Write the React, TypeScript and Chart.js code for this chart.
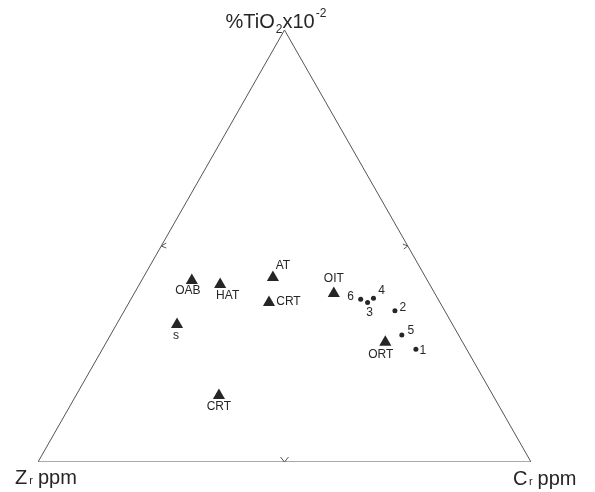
import { useEffect, useRef } from "react";
import { Chart, registerables } from "chart.js";

Chart.register(...registerables);

// Ternary compositions (% of each apex): TiO2 (top), Zr (left), Cr (right)
const fieldNames = ["OAB", "HAT", "AT", "CRT", "s", "OIT", "ORT", "CRT"];
const fieldTiO2 = [42.0, 41.1, 42.7, 36.9, 31.8, 39.0, 27.7, 15.4];
const fieldZr = [47.8, 42.5, 31.0, 34.7, 55.9, 20.5, 15.7, 55.6];
const fieldCr = [10.2, 16.4, 26.3, 28.4, 12.3, 40.5, 56.6, 29.0];

const sampleNames = ["1", "2", "3", "4", "5", "6"];
const sampleTiO2 = [26.1, 35.0, 36.9, 37.9, 29.4, 37.7];
const sampleZr = [10.3, 10.1, 14.7, 13.0, 11.5, 15.7];
const sampleCr = [63.6, 54.9, 48.4, 49.1, 59.1, 46.6];

// label placement (pixel offsets from marker centre) — styling only
const fieldLabelOffsets: [number, number][] = [
  [-4, 12], [7.5, 13], [10, -10], [19.5, 1], [-1, 12.4], [0, -13], [-4.5, 14], [0, 13],
];
const sampleLabelOffsets: [number, number][] = [
  [7, 1.5], [8, -3], [2, 10], [8, -8], [9, -4], [-10, -2],
];

const INK = "#262626";
const FONT = '"Liberation Sans", Arial, sans-serif';

function toXY(t: number, z: number, c: number) {
  const s = t + z + c;
  const tf = t / s;
  const cf = c / s;
  return { x: cf + 0.5 * tf, y: tf };
}

const TRI_R = 7;

export default function App() {
  const ref = useRef<HTMLCanvasElement | null>(null);
  useEffect(() => {
    if (!ref.current) return;
    const fieldPts = fieldTiO2.map((t, i) => toXY(t, fieldZr[i], fieldCr[i]));
    const samplePts = sampleTiO2.map((t, i) => toXY(t, sampleZr[i], sampleCr[i]));

    const annotate = {
      id: "annotate",
      afterDatasetsDraw(chart: any) {
        const ctx: CanvasRenderingContext2D = chart.ctx;
        const xs = chart.scales.x;
        const ys = chart.scales.y;
        const P = (x: number, y: number) => [xs.getPixelForValue(x), ys.getPixelForValue(y)];
        ctx.save();
        ctx.fillStyle = INK;
        ctx.strokeStyle = "#555";
        ctx.lineWidth = 1;
        // chevrons at side midpoints
        const [lx, ly] = P(0.25, 0.5);
        const [rx, ry] = P(0.75, 0.5);
        const [bx, by] = P(0.5, 0);
        ctx.beginPath();
        ctx.moveTo(lx + 5, ly - 3); ctx.lineTo(lx, ly); ctx.lineTo(lx + 5, ly + 2);
        ctx.moveTo(rx - 5, ry - 2); ctx.lineTo(rx, ry); ctx.lineTo(rx - 4, ry + 3);
        ctx.moveTo(bx - 4, by - 5); ctx.lineTo(bx, by); ctx.lineTo(bx + 4, by - 5);
        ctx.stroke();

        // point labels
        ctx.textAlign = "center";
        ctx.textBaseline = "middle";
        ctx.font = `12px ${FONT}`;
        const fmeta = chart.getDatasetMeta(1);
        fmeta.data.forEach((el: any, i: number) => {
          const [dx, dy] = fieldLabelOffsets[i];
          ctx.fillText(fieldNames[i], el.x + dx, el.y - TRI_R / 4 + dy);
        });
        const smeta = chart.getDatasetMeta(2);
        smeta.data.forEach((el: any, i: number) => {
          const [dx, dy] = sampleLabelOffsets[i];
          ctx.fillText(sampleNames[i], el.x + dx, el.y + dy);
        });

        // apex titles
        ctx.textAlign = "left";
        ctx.textBaseline = "alphabetic";
        const [ax, ay] = P(0.5, 1);
        let x = ax - 59;
        const base = ay - 2;
        const big = `20px ${FONT}`;
        const small = `12px ${FONT}`;
        ctx.font = big; ctx.fillText("%TiO", x, base); x += ctx.measureText("%TiO").width + 1;
        ctx.font = small; ctx.fillText("2", x, base + 5); x += ctx.measureText("2").width;
        ctx.font = big; ctx.fillText("x10", x, base); x += ctx.measureText("x10").width;
        ctx.font = small; ctx.fillText("-2", x + 1, base - 11);

        const [zx, zy] = P(0, 0);
        let x2 = zx - 23;
        const b2 = zy + 22;
        ctx.font = big; ctx.fillText("Z", x2, b2); x2 += ctx.measureText("Z").width + 2;
        ctx.font = `11px ${FONT}`; ctx.fillText("r", x2, b2); x2 += ctx.measureText("r").width + 5;
        ctx.font = big; ctx.fillText("ppm", x2, b2);

        const [cx, cy] = P(1, 0);
        let x3 = cx - 18;
        const b3 = cy + 23;
        ctx.font = big; ctx.fillText("C", x3, b3); x3 += ctx.measureText("C").width + 1.5;
        ctx.font = `11px ${FONT}`; ctx.fillText("r", x3, b3); x3 += ctx.measureText("r").width + 5;
        ctx.font = big; ctx.fillText("ppm", x3, b3);
        ctx.restore();
      },
    };

    const chart = new Chart(ref.current, {
      type: "scatter",
      data: {
        datasets: [
          {
            type: "line",
            data: [
              { x: 0, y: 0 },
              { x: 1, y: 0 },
              { x: 0.5, y: 1 },
              { x: 0, y: 0 },
            ],
            borderColor: "#555",
            borderWidth: 1,
            pointRadius: 0,
            fill: false,
            tension: 0,
          } as any,
          {
            data: fieldPts,
            pointStyle: "triangle",
            pointRadius: TRI_R,
            backgroundColor: INK,
            borderColor: INK,
            borderWidth: 0,
          },
          {
            data: samplePts,
            pointStyle: "circle",
            pointRadius: 2.5,
            backgroundColor: INK,
            borderColor: INK,
            borderWidth: 0,
          },
        ],
      },
      options: {
        animation: false,
        responsive: false,
        layout: { padding: { left: 38, right: 64, top: 30, bottom: 30 } },
        scales: {
          x: { type: "linear", min: 0, max: 1, display: false },
          y: { type: "linear", min: 0, max: 1, display: false },
        },
        plugins: { legend: { display: false }, tooltip: { enabled: false } },
        events: [],
      },
      plugins: [annotate],
    });
    return () => chart.destroy();
  }, []);

  return (
    <div style={{ position: "absolute", left: 0, top: 0, width: 595, height: 492, background: "#fff" }}>
      <canvas ref={ref} width={595} height={492} />
    </div>
  );
}
